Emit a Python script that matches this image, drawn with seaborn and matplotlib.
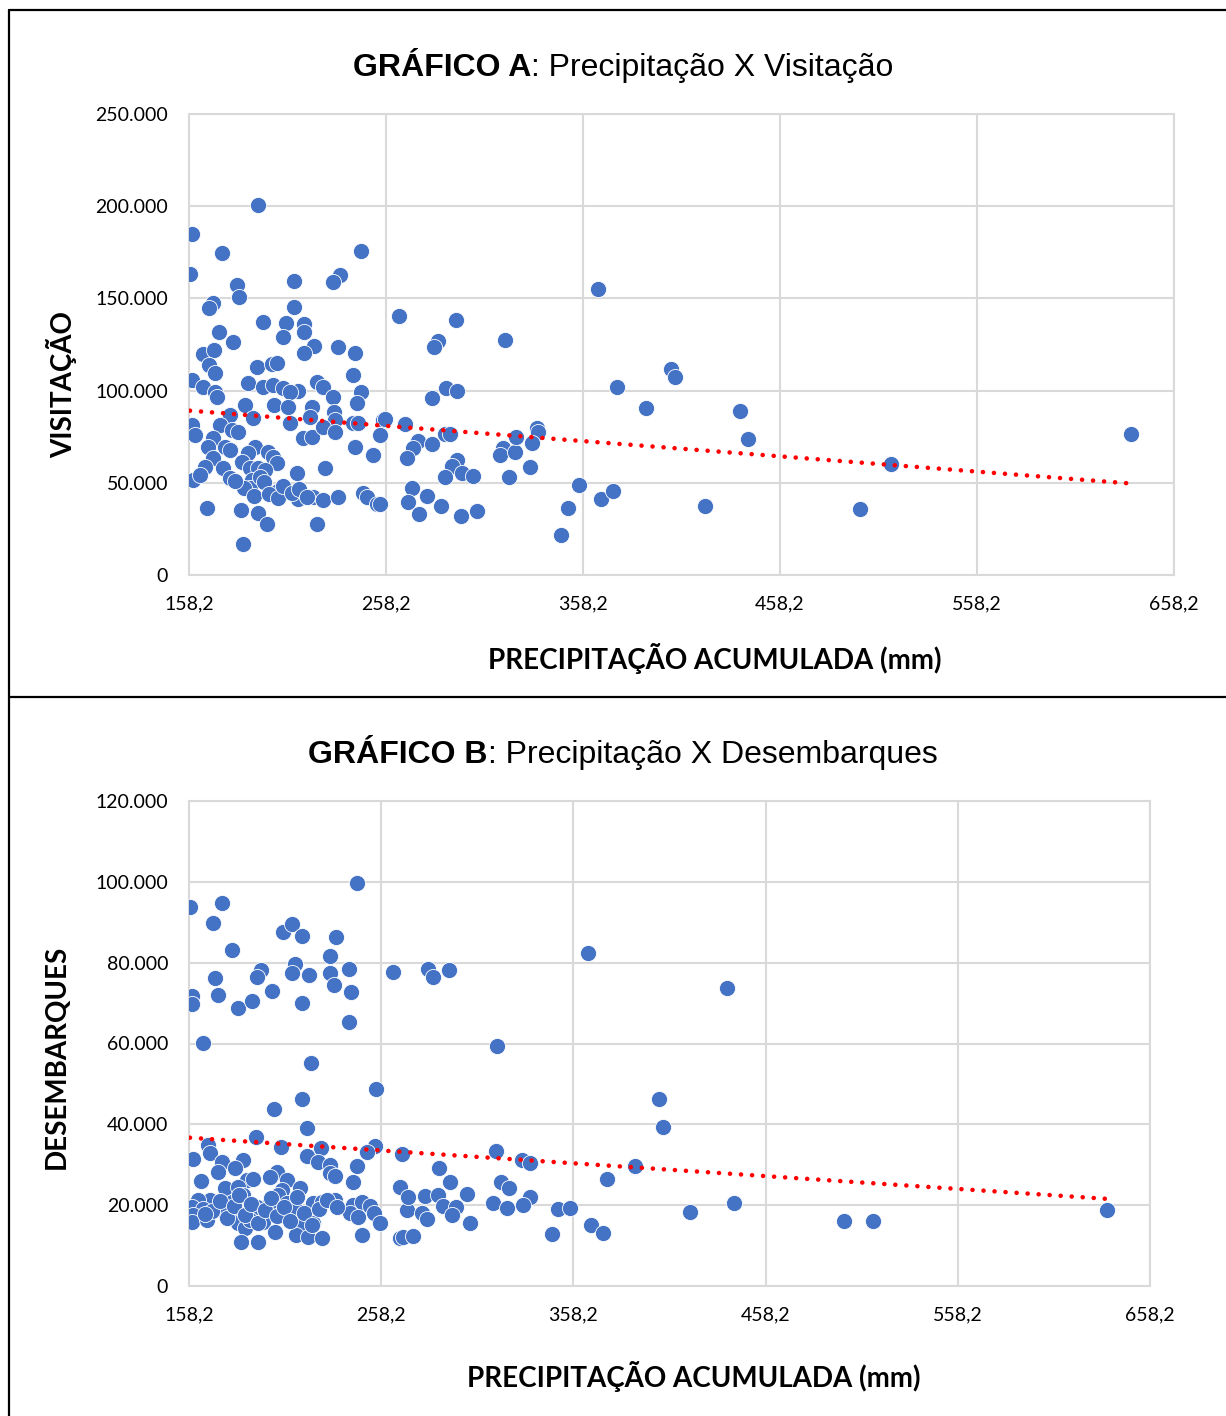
import matplotlib
matplotlib.use("Agg")
import matplotlib.pyplot as plt
from matplotlib.lines import Line2D
from matplotlib.ticker import FuncFormatter, MultipleLocator
import seaborn as sns
import pandas as pd

# GRÁFICO A: precipitação acumulada (mm) x visitação
precip_a = [193.2, 159.7, 175.0, 158.7, 245.5, 234.8, 231.3, 211.5, 182.6, 183.6,
            170.4, 168.4, 211.5, 195.8, 207.4, 216.6, 205.9, 216.6, 173.4, 180.5,
            221.7, 233.8, 242.5, 165.3, 170.9, 216.6, 168.4, 171.4, 159.7, 165.3,
            171.4, 172.4, 188.1, 192.7, 200.3, 202.9, 195.8, 200.8, 205.9, 213.5,
            209.5, 241.4, 223.2, 226.2, 231.3, 245.5, 243.5, 186.6, 179.0, 190.7,
            201.3, 208.5, 220.6, 219.6, 231.8, 232.3, 209.5, 159.7, 161.2, 173.9,
            180.0, 183.1, 170.4, 167.8, 176.5, 179.0, 216.1, 220.6, 226.2, 232.3,
            241.4, 244.0, 256.7, 255.2, 242.5, 251.6, 191.7, 188.1, 198.3, 200.8,
            202.9, 170.4, 166.3, 175.5, 179.0, 185.1, 189.2, 193.2, 196.8, 190.2,
            189.2, 194.2, 213.0, 227.2, 160.2, 163.8, 203.4, 213.5, 221.1, 226.2,
            233.8, 246.5, 248.6, 253.6, 167.3, 184.6, 193.2, 197.8, 223.2, 185.6,
            264.8, 293.7, 284.6, 282.6, 318.6, 365.8, 288.7, 294.2, 281.5, 402.9,
            404.9, 375.5, 390.2, 257.7, 267.8, 274.4, 271.9, 268.9, 281.5, 288.1,
            290.7, 294.2, 291.7, 296.8, 302.4, 288.1, 317.6, 316.1, 323.7, 324.2,
            334.8, 335.3, 332.3, 331.3, 320.6, 271.4, 269.4, 279.0, 274.9, 286.1,
            296.3, 304.4, 356.2, 350.6, 367.3, 373.4, 347.0, 255.2, 437.9, 441.9,
            420.1, 498.8, 514.5, 636.4,
            # pontos sobrepostos no aglomerado denso
            186.0, 191.0, 196.5, 199.0, 203.5, 206.0, 210.5, 214.0, 181.5, 218.0]
visitas_a = [200700, 184900, 174600, 163200, 175700, 162700, 158900, 159400, 157300, 150800,
             147500, 144800, 145300, 137200, 136700, 136100, 129100, 131800, 131800, 126400,
             124200, 123600, 120400, 119800, 122000, 120400, 113900, 109500, 105700, 102000,
             99200, 96500, 104100, 112800, 114400, 115000, 102000, 103000, 101400, 99800,
             99200, 108500, 104700, 102000, 96500, 99200, 93300, 92200, 86800, 85100,
             92200, 91100, 91100, 85700, 88400, 84100, 82400, 81300, 75900, 81300,
             78600, 77500, 74300, 69400, 69400, 67800, 74300, 74800, 80300, 77500,
             82400, 82400, 84100, 75900, 69400, 65100, 69400, 66200, 66700, 64000,
             60700, 63400, 58600, 58000, 52600, 61300, 58000, 58000, 56900, 51500,
             47200, 53100, 55300, 58000, 51500, 54200, 45600, 41200, 42300, 40700,
             42300, 44500, 42300, 38500, 36300, 35300, 33600, 27700, 27700, 16800,
             140500, 138300, 126900, 123600, 127400, 155100, 101400, 99800, 96000, 111700,
             107400, 102000, 90600, 84600, 81900, 72700, 68900, 63400, 71000, 76500,
             76500, 62400, 59100, 55300, 53700, 53100, 68900, 65100, 66700, 74800,
             79700, 77500, 71600, 58600, 53100, 47200, 39600, 42800, 33100, 37400,
             32000, 34700, 48800, 36300, 41200, 45600, 21700, 38500, 88900, 73800,
             37400, 35800, 60200, 76500,
             47000, 43000, 50500, 44000, 41500, 48000, 44500, 46500, 51000, 42500]

# GRÁFICO B: precipitação acumulada (mm) x desembarques
precip_b = [245.6, 158.7, 175.4, 170.7, 180.6, 207.1, 211.8, 217.0, 234.7, 231.6,
            264.3, 213.4, 211.8, 195.7, 193.6, 220.6, 231.6, 233.6, 241.4, 242.5,
            171.7, 159.8, 159.8, 173.3, 183.7, 191.0, 201.4, 217.0, 241.4, 165.5,
            221.7, 365.8, 282.6, 285.2, 293.5, 318.5, 255.5, 402.7, 404.8, 438.1,
            217.0, 202.4, 219.6, 193.1, 168.1, 169.1, 206.1, 226.9, 255.0, 250.8,
            269.0, 160.3, 175.4, 186.3, 219.6, 225.3, 231.6, 245.6, 173.3, 182.1,
            231.6, 234.2, 204.0, 200.3, 164.4, 188.4, 191.5, 209.2, 243.5, 216.0,
            176.9, 183.7, 186.3, 206.6, 204.5, 172.8, 169.1, 162.9, 159.8, 165.5,
            175.9, 180.6, 191.5, 200.3, 209.2, 213.4, 222.7, 227.4, 234.2, 243.5,
            248.2, 252.4, 242.0, 246.1, 254.5, 160.3, 159.8, 167.6, 176.9, 185.8,
            193.6, 197.7, 196.7, 183.7, 187.3, 189.9, 202.9, 216.0, 222.7, 213.9,
            220.1, 227.4, 248.2, 257.6, 185.3, 194.1, 268.0, 271.6, 317.9, 331.5,
            335.6, 390.3, 375.7, 288.3, 294.0, 268.0, 272.1, 320.5, 324.7, 302.8,
            281.0, 287.8, 335.6, 332.0, 316.4, 323.7, 350.2, 356.4, 279.4, 282.0,
            290.4, 297.1, 295.0, 304.4, 269.5, 274.7, 347.1, 367.4, 373.6, 418.9,
            441.8, 499.0, 514.1, 635.8,
            # pontos sobrepostos no aglomerado denso
            170.0, 174.5, 178.0, 181.5, 184.0, 187.5, 190.5, 194.0, 197.5, 201.0,
            204.0, 207.5, 211.0, 214.5, 218.0, 222.0, 226.0, 230.0, 166.5, 235.0]
desemb_b = [99700, 93800, 94800, 89800, 83100, 87600, 89600, 86600, 86300, 81600,
            77700, 79700, 77400, 78200, 76400, 76900, 77400, 74500, 78400, 72700,
            76200, 71700, 69800, 72000, 68800, 70500, 73000, 70000, 65300, 60100,
            55200, 82400, 78400, 76400, 78200, 59400, 48700, 46300, 39300, 73700,
            46300, 43800, 39100, 36900, 34900, 32900, 34400, 34100, 34600, 33200,
            32700, 31400, 30700, 31200, 32200, 30700, 29900, 29700, 28200, 29200,
            28000, 27200, 28200, 27000, 26000, 26200, 26500, 26200, 25700, 24200,
            24200, 24500, 22500, 23800, 22500, 20800, 21300, 21300, 19500, 19100,
            19500, 20800, 20000, 20800, 20500, 19300, 20500, 20800, 21300, 20000,
            20800, 19800, 18100, 17100, 18100, 17600, 15800, 16300, 18100, 17100,
            19500, 18800, 15800, 15600, 14300, 16300, 13400, 14800, 15600, 12600,
            12100, 11900, 12600, 15600, 10900, 10900, 11900, 18800, 33400, 31200,
            30400, 29700, 26500, 29200, 25700, 24500, 22000, 25700, 24200, 22800,
            22300, 22500, 22000, 20000, 20500, 19300, 19100, 19300, 18100, 16600,
            19800, 19500, 17600, 15600, 12100, 12400, 12900, 15100, 13100, 18300,
            20500, 16100, 16100, 18800,
            18500, 21000, 16800, 19800, 22500, 17500, 20300, 15500, 18900, 21800,
            17200, 19600, 16000, 22000, 18000, 15200, 19000, 21300, 17800, 19500]

x_ticks = [158.2, 258.2, 358.2, 458.2, 558.2, 658.2]

BLUE = "#4472C4"
GRID = "#D9D9D9"

sns.set_style("white")
plt.rcParams["font.family"] = ["Lato", "DejaVu Sans"]
plt.rcParams["text.color"] = "black"

W, H = 1226, 1416
fig = plt.figure(figsize=(W / 100, H / 100), dpi=100)


def px_box(left, top, right, bottom):
    return [left / W, 1 - bottom / H, (right - left) / W, (bottom - top) / H]


def draw_panel(ax, x, y, ymax, ystep):
    df = pd.DataFrame({"x": x, "y": y})
    sns.scatterplot(data=df, x="x", y="y", ax=ax, color=BLUE, s=135,
                    edgecolor="white", linewidth=0.6, zorder=3)
    sns.regplot(data=df, x="x", y="y", ax=ax, scatter=False, ci=None,
                line_kws=dict(color="#FF0000", lw=3.3, linestyle=(0, (0.01, 2.4)),
                              dash_capstyle="round", zorder=4))
    ax.set_xlim(158.2, 658.2)
    ax.set_ylim(0, ymax)
    ax.set_xticks(x_ticks)
    ax.yaxis.set_major_locator(MultipleLocator(ystep))
    ax.xaxis.set_major_formatter(FuncFormatter(lambda v, p: f"{v:.1f}".replace(".", ",")))
    ax.yaxis.set_major_formatter(FuncFormatter(lambda v, p: f"{int(round(v)):,}".replace(",", ".")))
    ax.grid(True, color=GRID, lw=1.5, zorder=0)
    ax.set_axisbelow(True)
    for s in ax.spines.values():
        s.set_color(GRID)
        s.set_linewidth(1.5)
    ax.tick_params(length=0, labelsize=14, colors="black")
    ax.tick_params(axis="y", pad=15)
    ax.tick_params(axis="x", pad=15)
    ax.set_xlabel("")
    ax.set_ylabel("")


def mixed_title(y_px, bold, rest):
    y = 1 - y_px / H
    t1 = fig.text(0, y, bold, fontsize=23, weight="bold", family="Liberation Sans",
                  va="center", ha="left", color="black")
    t2 = fig.text(0, y, rest, fontsize=23, family="Liberation Sans",
                  va="center", ha="left", color="black")
    fig.canvas.draw()
    r = fig.canvas.get_renderer()
    w1 = t1.get_window_extent(r).width / W
    w2 = t2.get_window_extent(r).width / W
    x0 = 623 / W - (w1 + w2) / 2
    t1.set_x(x0)
    t2.set_x(x0 + w1)


ax_a = fig.add_axes(px_box(189, 114, 1174, 575))
draw_panel(ax_a, precip_a, visitas_a, 250000, 50000)

ax_b = fig.add_axes(px_box(189, 801, 1150, 1286))
draw_panel(ax_b, precip_b, desemb_b, 120000, 20000)

mixed_title(68, "GRÁFICO A", ": Precipitação X Visitação")
mixed_title(755, "GRÁFICO B", ": Precipitação X Desembarques")

fig.text(715 / W, 1 - 658 / H, "PRECIPITAÇÃO ACUMULADA (mm)", fontsize=20,
         weight="bold", ha="center", va="center")
fig.text(694 / W, 1 - 1377 / H, "PRECIPITAÇÃO ACUMULADA (mm)", fontsize=20,
         weight="bold", ha="center", va="center")
fig.text(62 / W, 1 - 385 / H, "VISITAÇÃO", fontsize=20, weight="bold",
         rotation=90, ha="center", va="center")
fig.text(57 / W, 1 - 1057 / H, "DESEMBARQUES", fontsize=20, weight="bold",
         rotation=90, ha="center", va="center")

# moldura das duas figuras
for xs, ys in [([9, 9], [10, H]), ([9, W], [10, 10]), ([9, W], [697, 697])]:
    fig.add_artist(Line2D([v / W for v in xs], [1 - v / H for v in ys],
                          color="black", lw=1.6))

fig.savefig("out.png", dpi=100, facecolor="white")
